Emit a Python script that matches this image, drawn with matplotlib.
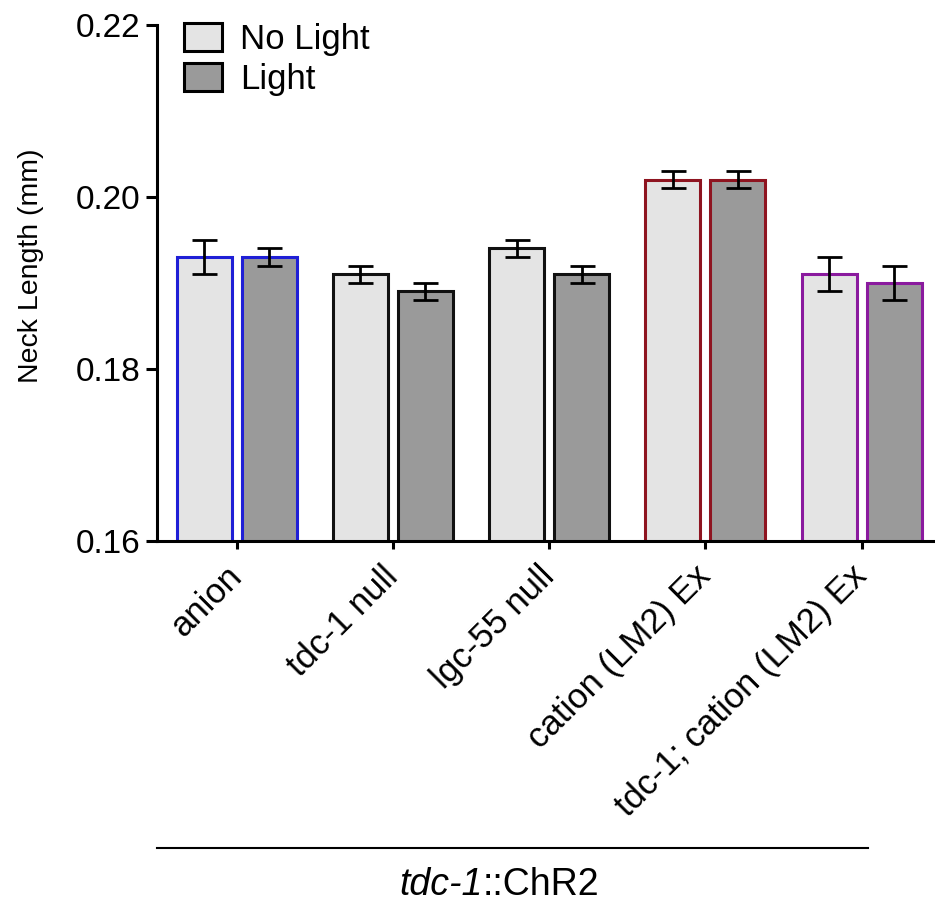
import numpy as np
import matplotlib
matplotlib.use('Agg')
import matplotlib.pyplot as plt
from matplotlib.patches import Patch
from matplotlib.lines import Line2D

plt.rcParams['font.family'] = ['Liberation Sans', 'DejaVu Sans']

# dados
groups = ['anion', 'tdc-1 null', 'lgc-55 null', 'cation (LM2) Ex', 'tdc-1; cation (LM2) Ex']
no_light = [0.193, 0.191, 0.194, 0.202, 0.191]
no_light_err = [0.002, 0.001, 0.001, 0.001, 0.002]
light = [0.193, 0.189, 0.191, 0.202, 0.190]
light_err = [0.001, 0.001, 0.001, 0.001, 0.002]
edge_colors = ['#1f1fd6', '#111111', '#111111', '#8e1420', '#8a1a9e']

fig = plt.figure(figsize=(9.35, 9.09), dpi=100)
ax = fig.add_axes([0.168, 0.405, 0.832, 0.5677])

x = np.arange(len(groups))
w = 0.353
off = 0.208
ax.bar(x - off, no_light, w, color='#e4e4e4', edgecolor=edge_colors, linewidth=2.2, zorder=2)
ax.bar(x + off, light, w, color='#9a9a9a', edgecolor=edge_colors, linewidth=2.2, zorder=2)
ax.errorbar(x - off, no_light, yerr=no_light_err, fmt='none', ecolor='black',
            elinewidth=2, capsize=9, capthick=2, zorder=3)
ax.errorbar(x + off, light, yerr=light_err, fmt='none', ecolor='black',
            elinewidth=2, capsize=9, capthick=2, zorder=3)

ax.set_ylim(0.16, 0.22)
ax.set_xlim(-0.51, 4.47)
ax.set_yticks([0.16, 0.18, 0.20, 0.22])
ax.set_yticklabels(['0.16', '0.18', '0.20', '0.22'], fontsize=24)
ax.set_xticks(x)
ax.set_xticklabels(groups, rotation=45, ha='right', va='center',
                   rotation_mode='anchor', fontsize=25)
ax.tick_params(axis='y', length=8, width=2.2, direction='out', pad=4)
ax.tick_params(axis='x', length=6, width=2.2, direction='out', pad=16)
ax.set_ylabel('Neck Length (mm)', fontsize=20.5)
ax.yaxis.set_label_coords(-0.145, 0.533)

for s in ['top', 'right']:
    ax.spines[s].set_visible(False)
for s in ['left', 'bottom']:
    ax.spines[s].set_linewidth(2.2)
ax.spines['bottom'].set_zorder(4)

handles = [Patch(facecolor='#e4e4e4', edgecolor='black', linewidth=2.2, label='No Light'),
           Patch(facecolor='#9a9a9a', edgecolor='black', linewidth=2.2, label='Light')]
ax.legend(handles=handles, loc='upper left', bbox_to_anchor=(0.197, 0.975),
          bbox_transform=fig.transFigure, frameon=False, fontsize=25,
          handlelength=1.1, handleheight=0.86, handletextpad=0.5,
          labelspacing=0.2, borderpad=0, borderaxespad=0)

# linha e rótulo inferior
fig.add_artist(Line2D([157 / 935, 868 / 935], [1 - 848 / 909, 1 - 848 / 909],
                      color='black', linewidth=1.5, transform=fig.transFigure))
fig.text(483 / 935, 1 - 885 / 909, 'tdc-1', fontsize=27, style='italic',
         ha='right', va='center')
fig.text(483 / 935, 1 - 885 / 909, '::ChR2', fontsize=27, ha='left', va='center')

fig.savefig('out.png', dpi=100)
